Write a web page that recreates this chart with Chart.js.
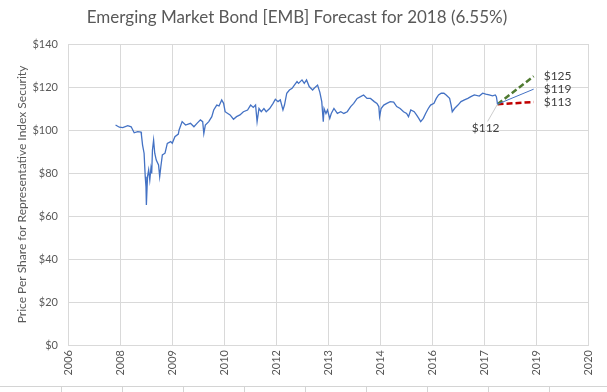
<!DOCTYPE html>
<html>
<head>
<meta charset="utf-8">
<script src="https://cdn.jsdelivr.net/npm/chart.js@4.4.1/dist/chart.umd.min.js"></script>
<style>
    html, body { margin: 0; padding: 0; background: #fff; }
    #wrap { position: relative; width: 607px; height: 392px; }
    #cells {
        position: absolute; left: 0; top: 386px; width: 607px; height: 6px;
        border-top: 1px solid #d4d4d4;
        background: repeating-linear-gradient(to right, transparent 0, transparent 60px, #d4d4d4 60px, #d4d4d4 61px);
        background-position: 1px 0;
    }
    canvas { position: absolute; left: 0; top: 0; }
</style>
</head>
<body>
<div id="wrap">
    <div id="cells"></div>
    <canvas id="chart" width="607" height="392"></canvas>
</div>
<script>
// decimal years and closing prices
const years = [
    2007.97, 2008.07, 2008.16, 2008.29, 2008.38, 2008.46, 2008.55, 2008.64, 2008.65, 2008.68,
    2008.72, 2008.75, 2008.77, 2008.78, 2008.81, 2008.84, 2008.87, 2008.90, 2008.92, 2008.94,
    2008.97, 2009.00, 2009.04, 2009.10, 2009.13, 2009.16, 2009.20, 2009.27, 2009.33, 2009.42,
    2009.46, 2009.53, 2009.62, 2009.64, 2009.72, 2009.81, 2009.94, 2010.03, 2010.11, 2010.20,
    2010.26, 2010.29, 2010.33, 2010.42, 2010.50, 2010.55, 2010.63, 2010.69, 2010.76, 2010.81,
    2010.85, 2010.92, 2010.98, 2011.07, 2011.15, 2011.24, 2011.33, 2011.44, 2011.52, 2011.59,
    2011.65, 2011.69, 2011.74, 2011.80, 2011.87, 2011.93, 2012.02, 2012.11, 2012.17, 2012.24,
    2012.30, 2012.37, 2012.41, 2012.47, 2012.54, 2012.61, 2012.67, 2012.74, 2012.78, 2012.87,
    2012.93, 2012.99, 2013.06, 2013.15, 2013.19, 2013.28, 2013.34, 2013.39, 2013.41, 2013.43,
    2013.45, 2013.50, 2013.54, 2013.60, 2013.64, 2013.71, 2013.80, 2013.89, 2013.97, 2014.06,
    2014.15, 2014.23, 2014.32, 2014.41, 2014.49, 2014.58, 2014.67, 2014.77, 2014.84, 2014.89,
    2014.91, 2014.95, 2015.02, 2015.10, 2015.19, 2015.28, 2015.36, 2015.45, 2015.54, 2015.62,
    2015.67, 2015.73, 2015.82, 2015.88, 2015.94, 2015.99, 2016.06, 2016.12, 2016.19, 2016.25,
    2016.34, 2016.40, 2016.46, 2016.53, 2016.60, 2016.66, 2016.75, 2016.79, 2016.82, 2016.88,
    2016.97, 2017.05, 2017.14, 2017.23, 2017.31, 2017.40, 2017.53, 2017.62, 2017.70, 2017.79,
    2017.88, 2017.95, 2017.98, 2018.01
];
const prices = [
    102.3, 101.3, 101.1, 102.0, 101.5, 98.7, 99.2, 99.0, 97.7, 93.0,
    89.2, 78.3, 73.6, 65.1, 78.3, 81.4, 76.7, 82.2, 79.8, 90.7,
    95.3, 89.2, 86.0, 83.7, 78.3, 82.9, 88.4, 89.2, 93.8, 94.6,
    93.8, 96.9, 98.1, 100.0, 103.9, 102.3, 103.1, 101.5, 103.1, 104.7,
    103.9, 98.4, 102.3, 103.9, 106.2, 109.3, 111.6, 111.2, 114.0, 112.4,
    108.5, 107.7, 107.0, 105.0, 106.2, 107.0, 108.5, 109.3, 111.6, 110.5,
    111.6, 103.9, 110.0, 108.5, 110.0, 108.5, 110.0, 112.4, 114.3, 113.2,
    114.0, 109.3, 111.6, 117.1, 118.6, 119.4, 120.9, 122.5, 121.7, 123.3,
    121.7, 123.3, 120.2, 118.6, 119.4, 120.9, 117.5, 113.2, 108.5, 103.9,
    110.0, 107.7, 109.3, 105.4, 107.7, 110.0, 107.7, 108.5, 107.7, 108.5,
    110.9, 112.4, 114.7, 115.5, 116.3, 114.7, 114.7, 113.2, 112.4, 110.9,
    106.2, 110.0, 111.6, 112.4, 113.2, 113.0, 110.9, 110.0, 108.5, 107.7,
    106.2, 109.3, 108.5, 107.0, 105.4, 103.9, 105.4, 107.7, 110.0, 111.6,
    112.4, 114.7, 116.3, 117.1, 117.1, 116.3, 114.7, 111.6, 108.5, 110.0,
    111.6, 113.2, 114.0, 114.7, 115.5, 116.3, 115.8, 117.1, 116.7, 116.3,
    115.9, 116.3, 115.5, 112.0
];

// forecast: start of 2018 to end of 2018
const forecastYears = [2018.01, 2018.96];
const forecastHigh = [112, 125];
const forecastMid = [112, 119];
const forecastLow = [112, 113];

// leader line from the $112 label up to the last price
const leaderYears = [2017.75, 2018.01];
const leaderPrices = [104, 112];

// Excel date axis: ticks every 500 days
const xTickValues = [2006.72, 2008.089, 2009.458, 2010.827, 2012.196, 2013.565, 2014.933, 2016.302, 2017.671, 2019.04, 2020.409];
const xTickLabels = ['2006', '2008', '2009', '2010', '2012', '2013', '2014', '2016', '2017', '2019', '2020'];
const yTickValues = [0, 20, 40, 60, 80, 100, 120, 140];

const textColor = '#595959';
const gridColor = '#d9d9d9';
const fontFamily = 'Lato, "Noto Sans", sans-serif';

function toPoints(xs, ys) {
    return xs.map((x, i) => ({ x: x, y: ys[i] }));
}

// value labels next to the forecast ends and the last price
const valueLabels = {
    id: 'valueLabels',
    afterDatasetsDraw(chart) {
        const ctx = chart.ctx;
        const xs = chart.scales.x, ys = chart.scales.y;
        ctx.save();
        ctx.font = '12px ' + fontFamily;
        ctx.fillStyle = '#404040';
        ctx.textBaseline = 'middle';
        ctx.textAlign = 'left';
        [forecastHigh, forecastMid, forecastLow].forEach(arr => {
            const v = arr[arr.length - 1];
            ctx.fillText('$' + v, xs.getPixelForValue(forecastYears[1]) + 10, ys.getPixelForValue(v));
        });
        ctx.textAlign = 'center';
        ctx.fillText('$' + leaderPrices[1], xs.getPixelForValue(leaderYears[0]) - 2, ys.getPixelForValue(leaderPrices[0]) + 7);
        ctx.restore();
    }
};

new Chart(document.getElementById('chart').getContext('2d'), {
    type: 'line',
    data: {
        datasets: [
            { data: toPoints(years, prices), borderColor: '#4472c4', borderWidth: 1.3 },
            { data: toPoints(leaderYears, leaderPrices), borderColor: '#bfbfbf', borderWidth: 0.8 },
            { data: toPoints(forecastYears, forecastMid), borderColor: '#4472c4', borderWidth: 1 },
            { data: toPoints(forecastYears, forecastHigh), borderColor: '#4f7a30', borderWidth: 2.5, borderDash: [6, 3] },
            { data: toPoints(forecastYears, forecastLow), borderColor: '#c00000', borderWidth: 2.5, borderDash: [6, 3] }
        ]
    },
    options: {
        responsive: false,
        animation: false,
        elements: { point: { radius: 0 }, line: { tension: 0 } },
        layout: { padding: { left: 0, right: 13, top: 0, bottom: 0 } },
        plugins: {
            legend: { display: false },
            tooltip: { enabled: false },
            title: {
                display: true,
                text: 'Emerging Market Bond [EMB] Forecast for 2018 (6.55%)',
                color: textColor,
                font: { family: fontFamily, size: 17, weight: 'normal' },
                padding: { top: 7, bottom: 16.6 }
            }
        },
        scales: {
            x: {
                type: 'linear',
                min: xTickValues[0],
                max: xTickValues[xTickValues.length - 1],
                afterBuildTicks: s => { s.ticks = xTickValues.map(v => ({ value: v })); },
                afterFit: s => { s.height = 47; },
                grid: { color: gridColor, drawTicks: false },
                border: { color: gridColor },
                ticks: {
                    autoSkip: false, minRotation: 90, maxRotation: 90, padding: 5,
                    color: textColor, font: { family: fontFamily, size: 11 },
                    callback: (v, i) => xTickLabels[i]
                }
            },
            y: {
                min: 0,
                max: 140,
                afterBuildTicks: s => { s.ticks = yTickValues.map(v => ({ value: v })); },
                afterFit: s => { s.width = 68; },
                grid: { color: gridColor, drawTicks: false },
                border: { display: false },
                ticks: {
                    padding: 10, color: textColor, font: { family: fontFamily, size: 11 },
                    callback: v => '$' + v
                },
                title: {
                    display: true,
                    text: 'Price Per Share for Representative Index Security',
                    color: textColor,
                    font: { family: fontFamily, size: 12 },
                    padding: { top: 15, bottom: 0 }
                }
            }
        }
    },
    plugins: [valueLabels]
});
</script>
</body>
</html>
